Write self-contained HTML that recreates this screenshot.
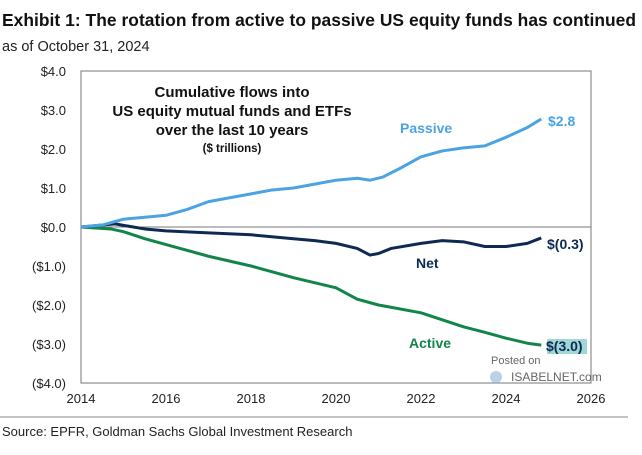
<!DOCTYPE html>
<html><head><meta charset="utf-8"><style>
body{margin:0;background:#fff;width:642px;height:450px;overflow:hidden;font-family:"Liberation Sans",Arial,sans-serif}
</style></head><body>
<svg width="642" height="450" font-family="Liberation Sans, Arial, sans-serif">
<text x="2" y="26" font-size="17.4" font-weight="bold" fill="#111" textLength="634">Exhibit 1: The rotation from active to passive US equity funds has continued</text>
<text x="2" y="51" font-size="14.5" fill="#222">as of October 31, 2024</text>
<g id="axes"></g>
<g id="series"></g>
<text x="232" y="97" font-size="15" font-weight="bold" text-anchor="middle" fill="#111">Cumulative flows into</text>
<text x="232" y="116" font-size="15" font-weight="bold" text-anchor="middle" fill="#111">US equity mutual funds and ETFs</text>
<text x="232" y="135" font-size="15" font-weight="bold" text-anchor="middle" fill="#111">over the last 10 years</text>
<text x="232" y="152" font-size="11.5" font-weight="bold" text-anchor="middle" fill="#111">($ trillions)</text>
<text x="400" y="133" font-size="14" font-weight="bold" fill="#4ba3e3">Passive</text>
<text x="416" y="268" font-size="14" font-weight="bold" fill="#0e2a52">Net</text>
<text x="409" y="348" font-size="14" font-weight="bold" fill="#12864a">Active</text>
<text x="548" y="126" font-size="14" font-weight="bold" fill="#4ba3e3">$2.8</text>
<text x="547" y="249" font-size="14" font-weight="bold" fill="#0e2a52">$(0.3)</text>
<rect x="547" y="339" width="40" height="15" fill="#9fd6d6"/>
<text x="546" y="351" font-size="14" font-weight="bold" fill="#0e2a52">$(3.0)</text>
<text x="491" y="364" font-size="11" fill="#666">Posted on</text>
<circle cx="496" cy="377" r="6" fill="#9bbfe0" opacity="0.7"/>
<text x="511" y="381" font-size="12" fill="#666">ISABELNET.com</text>
<line x1="0" y1="417" x2="628" y2="417" stroke="#888" stroke-width="1"/>
<text x="2" y="436" font-size="13" fill="#222">Source: EPFR, Goldman Sachs Global Investment Research</text>
</svg>
<script>
const xTicks=[2014,2016,2018,2020,2022,2024,2026];
const yTicks=[4,3,2,1,0,-1,-2,-3,-4];
const yTickLabels=["$4.0","$3.0","$2.0","$1.0","$0.0","($1.0)","($2.0)","($3.0)","($4.0)"];
const passiveYears=[2014,2014.5,2015,2015.5,2016,2016.5,2017,2017.5,2018,2018.5,2019,2019.5,2020,2020.5,2020.8,2021.1,2021.5,2022,2022.5,2023,2023.5,2024,2024.5,2024.83];
const passiveVals=[0,0.05,0.2,0.25,0.3,0.45,0.65,0.75,0.85,0.95,1.0,1.1,1.2,1.25,1.2,1.28,1.5,1.8,1.95,2.03,2.08,2.3,2.55,2.77];
const netYears=[2014,2014.8,2015.5,2016,2017,2018,2019,2019.5,2020,2020.5,2020.8,2021,2021.3,2022,2022.5,2023,2023.5,2024,2024.5,2024.83];
const netVals=[0,0.08,-0.05,-0.1,-0.15,-0.2,-0.3,-0.35,-0.42,-0.55,-0.72,-0.68,-0.55,-0.42,-0.35,-0.38,-0.5,-0.5,-0.42,-0.28];
const activeYears=[2014,2014.7,2015,2015.5,2016,2017,2018,2019,2020,2020.5,2021,2022,2023,2023.5,2024,2024.5,2024.83];
const activeVals=[0,-0.05,-0.12,-0.3,-0.45,-0.75,-1.0,-1.3,-1.56,-1.85,-2.0,-2.2,-2.56,-2.7,-2.85,-2.98,-3.03];
const X=v=>81+(v-2014)*(510/12), Y=v=>227-v*39;
const NS="http://www.w3.org/2000/svg";
const ax=document.getElementById('axes'), se=document.getElementById('series');
function mk(tag,at,par){const e=document.createElementNS(NS,tag);for(const k in at)e.setAttribute(k,at[k]);par.appendChild(e);return e;}
const box=mk('rect',{x:X(2014),y:Y(4),width:X(2026)-X(2014),height:Y(-4)-Y(4),fill:'none',stroke:'#777','stroke-width':1},ax);


const zl=mk('line',{x1:X(2014),x2:X(2026),y1:Y(0),y2:Y(0),stroke:'#777','stroke-width':1},ax);


yTicks.forEach((v,i)=>{const t=mk('text',{x:66,y:Y(v)+5,'font-size':13,'text-anchor':'end',fill:'#222'},ax);t.textContent=yTickLabels[i];

});
xTicks.forEach(v=>{const t=mk('text',{x:X(v),y:403,'font-size':13,'text-anchor':'middle',fill:'#222'},ax);t.textContent=v;

});
function line(xs,vs,c,n){const p=mk('polyline',{points:xs.map((x,i)=>X(x)+','+Y(vs[i])).join(' '),fill:'none',stroke:c,'stroke-width':3,'stroke-linejoin':'round'},se);

}
line(activeYears,activeVals,'#12864a','active-line');
line(netYears,netVals,'#0e2a52','net-line');
line(passiveYears,passiveVals,'#4ba3e3','passive-line');
</script>
</body></html>
